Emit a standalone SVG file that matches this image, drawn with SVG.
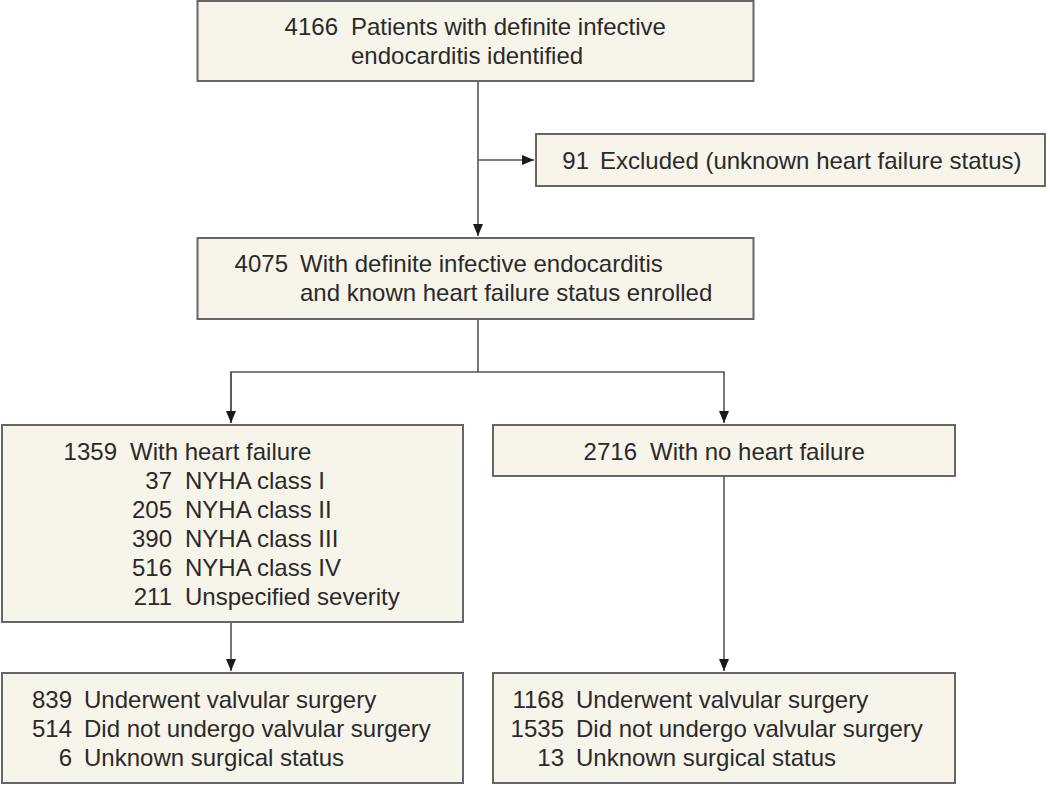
<svg xmlns="http://www.w3.org/2000/svg" width="1050" height="785" viewBox="0 0 1050 785">
<style>
.box{fill:#f7f4ea;stroke:#666;stroke-width:2}
.t{font-family:"Liberation Sans",Arial,Helvetica,sans-serif;font-size:24px;fill:#2a2a2a}
.n{text-anchor:end}
.c{fill:none;stroke:#555;stroke-width:1.6}
</style>
<defs>
<marker id="ah" markerUnits="userSpaceOnUse" markerWidth="12" markerHeight="10" refX="12" refY="5" orient="auto">
<path d="M0,0 L12,5 L0,10 z" fill="#1a1a1a"/>
</marker>
</defs>
<rect width="1050" height="785" fill="#fff"/>
<g id="connectors">
<line class="c" x1="478" y1="81" x2="478" y2="236" marker-end="url(#ah)"/>
<line class="c" x1="478" y1="160" x2="534" y2="160" marker-end="url(#ah)"/>
<polyline class="c" points="478,319 478,372"/>
<polyline class="c" points="231,423 231,372 724,372 724,423" marker-end="url(#ah)"/>
<line class="c" x1="231" y1="372" x2="231" y2="423" marker-end="url(#ah)"/>
<line class="c" x1="231" y1="622" x2="231" y2="671" marker-end="url(#ah)"/>
<line class="c" x1="724" y1="476" x2="724" y2="671" marker-end="url(#ah)"/>
</g>
<g id="n1">
<rect class="box" x="197.5" y="1" width="556" height="80"/>
<text class="t n" x="338" y="35">4166</text>
<text class="t" x="351" y="35">Patients with definite infective</text>
<text class="t" x="351" y="64">endocarditis identified</text>
</g>
<g id="n2">
<rect class="box" x="536" y="134" width="509" height="52"/>
<text class="t n" x="589" y="169">91</text>
<text class="t" x="600" y="169">Excluded (unknown heart failure status)</text>
</g>
<g id="n3">
<rect class="box" x="197.5" y="238" width="556" height="81"/>
<text class="t n" x="288" y="272">4075</text>
<text class="t" x="300" y="272">With definite infective endocarditis</text>
<text class="t" x="300" y="301">and known heart failure status enrolled</text>
</g>
<g id="n4">
<rect class="box" x="2" y="425" width="461" height="197"/>
<text class="t n" x="117" y="460">1359</text>
<text class="t" x="130" y="460">With heart failure</text>
<text class="t n" x="172" y="489">37</text>
<text class="t" x="185" y="489">NYHA class I</text>
<text class="t n" x="172" y="518">205</text>
<text class="t" x="185" y="518">NYHA class II</text>
<text class="t n" x="172" y="547">390</text>
<text class="t" x="185" y="547">NYHA class III</text>
<text class="t n" x="172" y="576">516</text>
<text class="t" x="185" y="576">NYHA class IV</text>
<text class="t n" x="172" y="605">211</text>
<text class="t" x="185" y="605">Unspecified severity</text>
</g>
<g id="n5">
<rect class="box" x="493" y="425" width="462" height="51"/>
<text class="t n" x="637" y="460">2716</text>
<text class="t" x="650" y="460">With no heart failure</text>
</g>
<g id="n6">
<rect class="box" x="2" y="673" width="461" height="110"/>
<text class="t n" x="72" y="708">839</text>
<text class="t" x="84" y="708">Underwent valvular surgery</text>
<text class="t n" x="72" y="737">514</text>
<text class="t" x="84" y="737">Did not undergo valvular surgery</text>
<text class="t n" x="72" y="766">6</text>
<text class="t" x="84" y="766">Unknown surgical status</text>
</g>
<g id="n7">
<rect class="box" x="493" y="673" width="462" height="110"/>
<text class="t n" x="564" y="708">1168</text>
<text class="t" x="576" y="708">Underwent valvular surgery</text>
<text class="t n" x="564" y="737">1535</text>
<text class="t" x="576" y="737">Did not undergo valvular surgery</text>
<text class="t n" x="564" y="766">13</text>
<text class="t" x="576" y="766">Unknown surgical status</text>
</g>
</svg>
